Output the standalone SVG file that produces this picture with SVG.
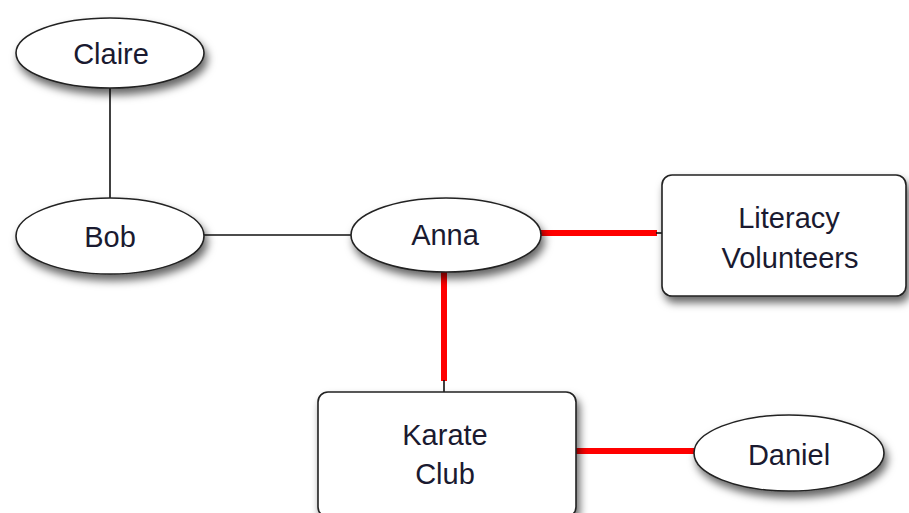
<svg xmlns="http://www.w3.org/2000/svg" width="909" height="513" viewBox="0 0 909 513">
<defs>
<filter id="sh" x="-20%" y="-20%" width="150%" height="170%">
<feDropShadow dx="3" dy="6" stdDeviation="4" flood-color="#000" flood-opacity="0.6"/>
</filter>
<style>
.n{fill:#fff;stroke:#222;stroke-width:1.6;filter:url(#sh)}
.t{font-family:"Liberation Sans",Arial,sans-serif;font-size:29px;fill:#1a1a30;text-anchor:middle}
.k{stroke:#111;stroke-width:1.6;fill:none}
.r{stroke:#f00;stroke-width:6;fill:none}
</style>
</defs>
<g id="connectors">
<line class="k" x1="110" y1="88" x2="110" y2="198"/>
<line class="k" x1="204" y1="235" x2="352" y2="235"/>
<line class="r" x1="541" y1="233" x2="657" y2="233"/>
<line class="k" x1="656" y1="233" x2="662" y2="233"/>
<line class="r" x1="444" y1="272" x2="444" y2="381"/>
<line class="k" x1="444" y1="380" x2="444" y2="392"/>
<line class="r" x1="576" y1="451" x2="695" y2="451"/>
</g>
<g id="claire">
<ellipse class="n" cx="110" cy="53" rx="94" ry="35"/>
<text class="t" x="111" y="64">Claire</text>
</g>
<g id="bob">
<ellipse class="n" cx="110" cy="236" rx="94" ry="38"/>
<text class="t" x="110" y="247">Bob</text>
</g>
<g id="anna">
<ellipse class="n" cx="446" cy="235" rx="95" ry="37"/>
<text class="t" x="445" y="245">Anna</text>
</g>
<g id="literacy">
<rect class="n" x="662" y="175" width="244" height="121" rx="10"/>
<text class="t" x="789" y="228">Literacy</text>
<text class="t" x="790" y="268">Volunteers</text>
</g>
<g id="karate">
<rect class="n" x="318" y="392" width="258" height="125" rx="10"/>
<text class="t" x="445" y="445">Karate</text>
<text class="t" x="445" y="484">Club</text>
</g>
<g id="daniel">
<ellipse class="n" cx="789" cy="453" rx="95" ry="38"/>
<text class="t" x="789" y="465">Daniel</text>
</g>
</svg>
